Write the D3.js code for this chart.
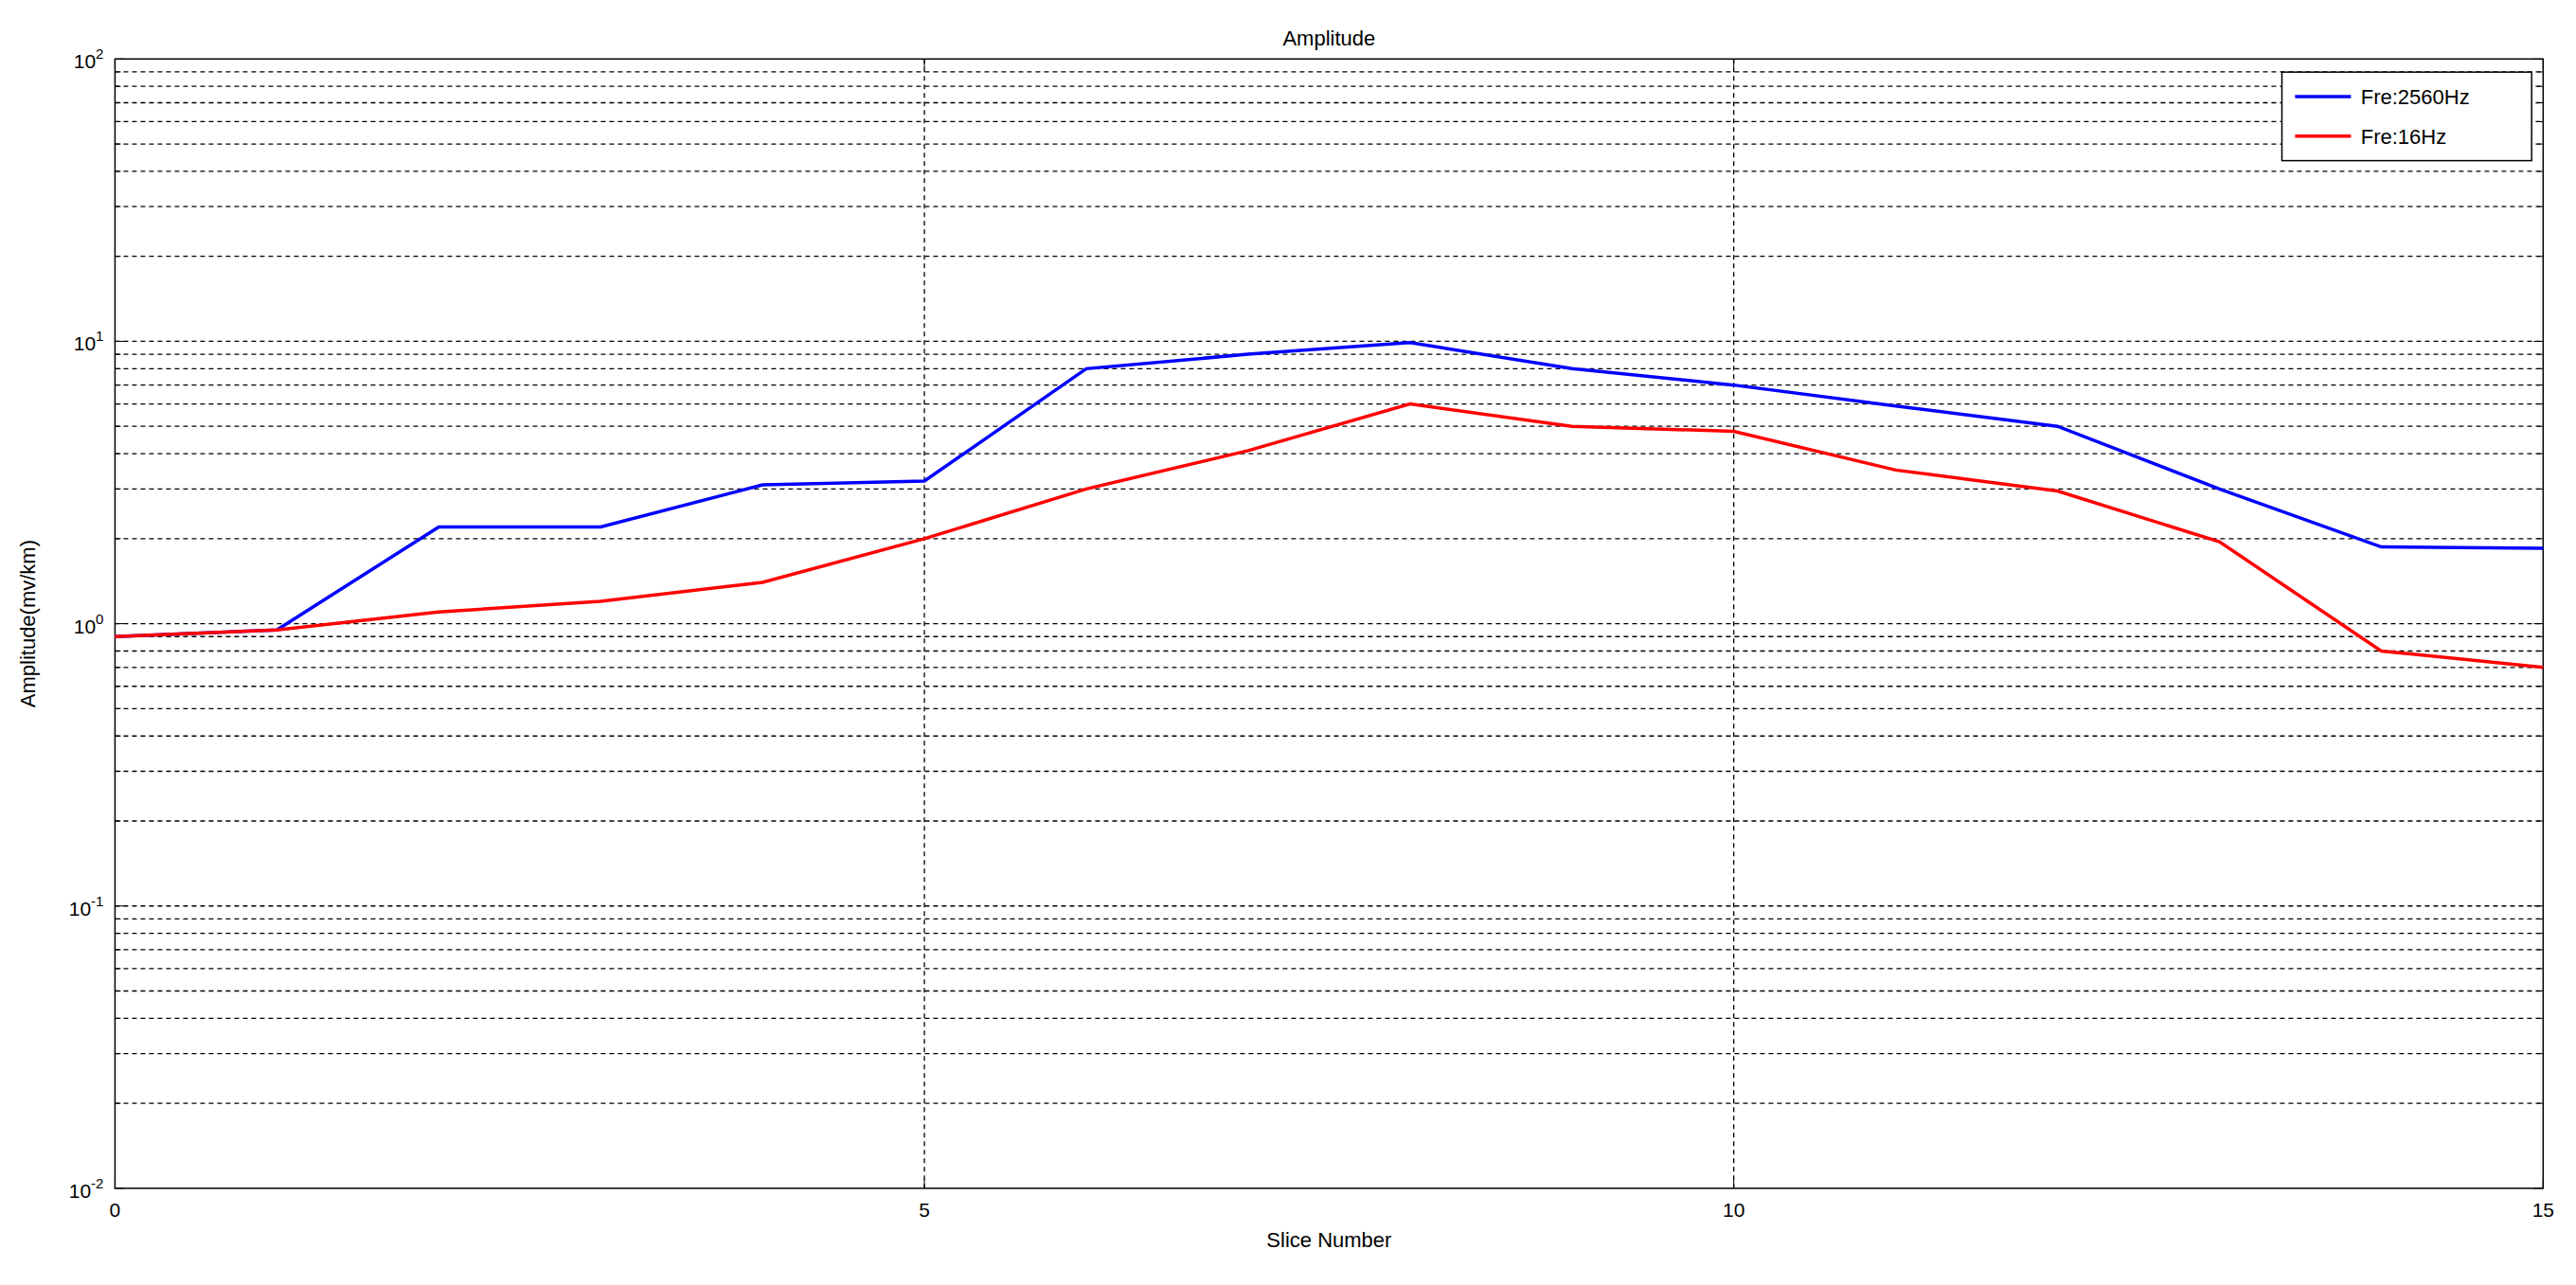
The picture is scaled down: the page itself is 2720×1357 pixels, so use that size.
<!DOCTYPE html><html><head><script src="https://cdn.jsdelivr.net/npm/d3@7"></script>
<style>body{margin:0;background:#fff}text{font-family:Arial,"Liberation Sans",sans-serif}</style></head><body>
<svg id="c" width="2720" height="1357"></svg>
<script>
const slices=[0,1,2,3,4,5,6,7,8,9,10,11,12,13,14,15];
const blue=[0.9,0.95,2.2,2.2,3.1,3.2,8.0,9.0,9.9,8.0,7.0,5.9,5.0,3.0,1.87,1.85];
const red=[0.9,0.95,1.1,1.2,1.4,2.0,3.0,4.1,6.0,5.0,4.8,3.5,2.95,1.95,0.8,0.7];
const xTicks=[0,5,10,15];
const yDecades=[-2,-1,0,1,2];
const W=2720,H=1357,sx=W/1568,sy=H/784;
const L=70*sx,R=1548*sx,T=36*sy,B=725*sy;
const svg=d3.select("#c");
const x=d3.scaleLinear().domain([0,15]).range([L,R]);
const y=d3.scaleLog().domain([0.01,100]).range([B,T]);
const g=svg.append("g");
const minor=[];for(let e=-2;e<2;e++)for(let m=1;m<10;m++)minor.push(m*Math.pow(10,e));minor.push(100);
g.selectAll(".hg").data(minor.filter(v=>v>0.01&&v<100)).enter().append("line")
 .attr("x1",L).attr("x2",R).attr("y1",d=>y(d)).attr("y2",d=>y(d)).attr("stroke","#000").attr("stroke-width",1.3).attr("stroke-dasharray","5,4");
g.selectAll(".vg").data([5,10]).enter().append("line")
 .attr("y1",T).attr("y2",B).attr("x1",d=>x(d)).attr("x2",d=>x(d)).attr("stroke","#000").attr("stroke-width",1.3).attr("stroke-dasharray","5,4");
minor.forEach(v=>{const yy=y(v);const len=(Math.abs(Math.log10(v)-Math.round(Math.log10(v)))<1e-9)?10:6;
 g.append("line").attr("x1",L).attr("x2",L+len).attr("y1",yy).attr("y2",yy).attr("stroke","#000");
 g.append("line").attr("x1",R).attr("x2",R-len).attr("y1",yy).attr("y2",yy).attr("stroke","#000");});
xTicks.forEach(v=>{g.append("line").attr("x1",x(v)).attr("x2",x(v)).attr("y1",B).attr("y2",B-10).attr("stroke","#000");
 g.append("line").attr("x1",x(v)).attr("x2",x(v)).attr("y1",T).attr("y2",T+10).attr("stroke","#000");
 g.append("text").attr("x",x(v)).attr("y",B+30).attr("text-anchor","middle").attr("font-size",21).text(v);});
yDecades.forEach(e=>{const t=g.append("text").attr("x",L-12).attr("y",y(Math.pow(10,e))+10).attr("text-anchor","end").attr("font-size",21);
 t.append("tspan").text("10");t.append("tspan").attr("dy",-10).attr("font-size",15).text(e);});
g.append("rect").attr("x",L).attr("y",T).attr("width",R-L).attr("height",B-T).attr("fill","none").attr("stroke","#000").attr("stroke-width",1.5);
const line=d3.line().x((d,i)=>x(slices[i])).y(d=>y(d));
g.append("path").datum(blue).attr("d",line).attr("fill","none").attr("stroke","#0000ff").attr("stroke-width",3.5);
g.append("path").datum(red).attr("d",line).attr("fill","none").attr("stroke","#ff0000").attr("stroke-width",3.5);
g.append("text").attr("x",(L+R)/2).attr("y",T-14).attr("text-anchor","middle").attr("font-size",22).text("Amplitude");
g.append("text").attr("x",(L+R)/2).attr("y",B+62).attr("text-anchor","middle").attr("font-size",22).text("Slice Number");
g.append("text").attr("transform",`translate(${L-84},${(T+B)/2}) rotate(-90)`).attr("text-anchor","middle").attr("font-size",22).text("Amplitude(mv/km)");
const lx=1389*sx,ly=44*sy,lw=152*sx,lh=54*sy;
g.append("rect").attr("x",lx).attr("y",ly).attr("width",lw).attr("height",lh).attr("fill","#fff").attr("stroke","#000").attr("stroke-width",1.5);
[["Fre:2560Hz","#0000ff"],["Fre:16Hz","#ff0000"]].forEach((d,i)=>{const yy=ly+(15+i*24)*sy;
 g.append("line").attr("x1",lx+8*sx).attr("x2",lx+42*sx).attr("y1",yy).attr("y2",yy).attr("stroke",d[1]).attr("stroke-width",3.5);
 g.append("text").attr("x",lx+48*sx).attr("y",yy+8).attr("font-size",22).text(d[0]);});
</script></body></html>
